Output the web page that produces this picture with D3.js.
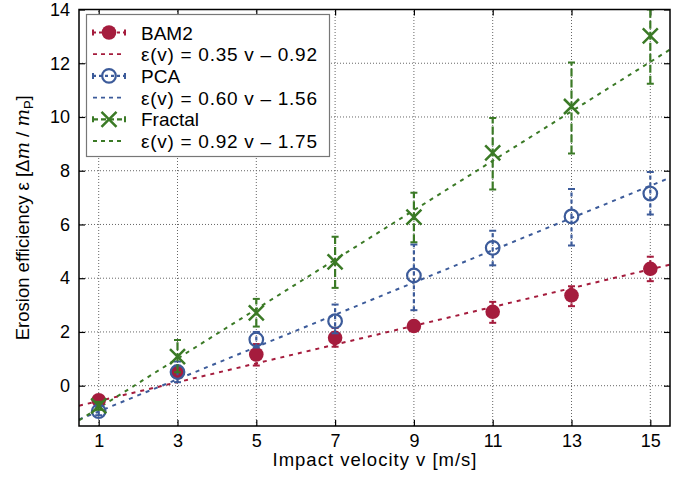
<!DOCTYPE html>
<html>
<head>
<meta charset="utf-8">
<script src="https://cdn.jsdelivr.net/npm/d3@7"></script>
<style>
  body { margin: 0; background: #fff; }
  svg { font-family: "Liberation Sans", Arial, sans-serif; }
</style>
</head>
<body>
<svg id="chart" width="692" height="477"></svg>
<script>
const velocities = [1, 3, 5, 7, 9, 11, 13, 15];

const bamMean = [-0.54, 0.5, 1.16, 1.78, 2.22, 2.75, 3.36, 4.35];
const bamLow = [-0.65, 0.35, 0.75, 1.45, 2.05, 2.34, 2.96, 3.89];
const bamHigh = [-0.43, 0.65, 1.55, 2.15, 2.4, 3.12, 3.7, 4.8];

const pcaMean = [-0.95, 0.51, 1.72, 2.4, 4.1, 5.13, 6.3, 7.15];
const pcaLow = [-1.1, 0.13, 1.42, 1.95, 2.81, 4.48, 5.22, 6.37];
const pcaHigh = [-0.8, 0.9, 2.0, 3.02, 5.25, 5.77, 7.32, 7.95];

const fracMean = [-0.75, 1.08, 2.71, 4.61, 6.27, 8.66, 10.39, 13.02];
const fracLow = [-0.9, 0.5, 2.2, 3.64, 5.34, 7.3, 8.64, 11.24];
const fracHigh = [-0.6, 1.7, 3.23, 5.54, 7.18, 9.96, 12.03, 14.0];

// linear fits: slope, intercept
const fits = [
  { slope: 0.35, intercept: -0.92, label: "ε(v) = 0.35 v – 0.92" },
  { slope: 0.6, intercept: -1.56, label: "ε(v) = 0.60 v – 1.56" },
  { slope: 0.92, intercept: -1.75, label: "ε(v) = 0.92 v – 1.75" },
];

const xTicks = [1, 3, 5, 7, 9, 11, 13, 15];
const yTicks = [0, 2, 4, 6, 8, 10, 12, 14];

const colors = { bam: "#a51c3d", pca: "#3c5b9a", frac: "#3b7a26" };

const margin = { left: 79, right: 22, top: 9.5, bottom: 51 };
const width = 692;
const height = 477;

const svg = d3.select("#chart");

const x = d3.scaleLinear().domain([0.5, 15.5]).range([margin.left, width - margin.right]);
const y = d3.scaleLinear().domain([-1.5, 14]).range([height - margin.bottom, margin.top]);

svg.append("defs").append("clipPath").attr("id", "plot")
  .append("rect")
  .attr("x", x(0.5)).attr("y", y(14))
  .attr("width", x(15.5) - x(0.5)).attr("height", y(-1.5) - y(14));

// grid
const grid = svg.append("g");
grid.selectAll(".gx").data(xTicks).enter().append("line")
  .attr("x1", (d) => x(d)).attr("x2", (d) => x(d))
  .attr("y1", y(-1.5)).attr("y2", y(14))
  .attr("stroke", "#666").attr("stroke-width", 1).attr("stroke-dasharray", "1,2");
grid.selectAll(".gy").data(yTicks).enter().append("line")
  .attr("x1", x(0.5)).attr("x2", x(15.5))
  .attr("y1", (d) => y(d)).attr("y2", (d) => y(d))
  .attr("stroke", "#666").attr("stroke-width", 1).attr("stroke-dasharray", "1,2");

// axes with inward ticks
const tickLen = 6;
const axisBottom = d3.axisBottom(x).tickValues(xTicks).tickSizeInner(-tickLen).tickSizeOuter(0).tickPadding(8);
const axisTop = d3.axisTop(x).tickValues(xTicks).tickSizeInner(-tickLen).tickSizeOuter(0).tickFormat("");
const axisLeft = d3.axisLeft(y).tickValues(yTicks).tickSizeInner(-tickLen).tickSizeOuter(0).tickPadding(9);
const axisRight = d3.axisRight(y).tickValues(yTicks).tickSizeInner(-tickLen).tickSizeOuter(0).tickFormat("");

function styleAxis(g) {
  g.select(".domain").remove();
  g.selectAll(".tick line").attr("stroke", "#000").attr("stroke-width", 1.2);
  g.selectAll(".tick text").attr("font-size", 18).attr("fill", "#000")
    .attr("font-family", "Liberation Sans, Arial, sans-serif");
}

svg.append("g").attr("transform", `translate(0,${y(-1.5)})`).call(axisBottom).call(styleAxis);
svg.append("g").attr("transform", `translate(0,${y(14)})`).call(axisTop).call(styleAxis);
svg.append("g").attr("transform", `translate(${x(0.5)},0)`).call(axisLeft).call(styleAxis);
svg.append("g").attr("transform", `translate(${x(15.5)},0)`).call(axisRight).call(styleAxis);

// fit lines
const plot = svg.append("g").attr("clip-path", "url(#plot)");
const fitColors = [colors.bam, colors.pca, colors.frac];
fits.forEach((f, i) => {
  const line = d3.line().x((d) => x(d)).y((d) => y(f.slope * d + f.intercept));
  plot.append("path")
    .datum([0.5, 15.5])
    .attr("d", line)
    .attr("fill", "none")
    .attr("stroke", fitColors[i])
    .attr("stroke-width", 2)
    .attr("stroke-dasharray", "4,5");
});

// series
const series = [
  { key: "bam", name: "BAM2", mean: bamMean, low: bamLow, high: bamHigh, dash: "3,3", marker: "dot" },
  { key: "pca", name: "PCA", mean: pcaMean, low: pcaLow, high: pcaHigh, dash: "4,3", marker: "circle" },
  { key: "frac", name: "Fractal", mean: fracMean, low: fracLow, high: fracHigh, dash: "8,3", marker: "cross" },
];

function drawMarker(g, type, cx, cy, color) {
  if (type === "dot") {
    g.append("circle").attr("cx", cx).attr("cy", cy).attr("r", 7.3).attr("fill", color);
  } else if (type === "circle") {
    g.append("circle").attr("cx", cx).attr("cy", cy).attr("r", 6.8)
      .attr("fill", "none").attr("stroke", color).attr("stroke-width", 2.2);
  } else {
    const s = 7.5;
    g.append("path")
      .attr("d", `M${cx - s},${cy - s}L${cx + s},${cy + s}M${cx - s},${cy + s}L${cx + s},${cy - s}`)
      .attr("stroke", color).attr("stroke-width", 2.5).attr("fill", "none");
  }
}

series.forEach((s) => {
  const color = colors[s.key];
  const g = plot.append("g");
  velocities.forEach((v, i) => {
    const cx = x(v);
    g.append("line")
      .attr("x1", cx).attr("x2", cx)
      .attr("y1", y(s.low[i])).attr("y2", y(s.high[i]))
      .attr("stroke", color).attr("stroke-width", 2.2)
      .attr("stroke-dasharray", s.dash);
    [s.low[i], s.high[i]].forEach((e) => {
      g.append("line")
        .attr("x1", cx - 3.5).attr("x2", cx + 3.5)
        .attr("y1", y(e)).attr("y2", y(e))
        .attr("stroke", color).attr("stroke-width", 2);
    });
    drawMarker(g, s.marker, cx, y(s.mean[i]), color);
  });
});

// frame
svg.append("rect")
  .attr("x", x(0.5)).attr("y", y(14))
  .attr("width", x(15.5) - x(0.5)).attr("height", y(-1.5) - y(14))
  .attr("fill", "none").attr("stroke", "#000").attr("stroke-width", 1.5);

// legend
const legend = svg.append("g");
legend.append("rect")
  .attr("x", 86.5).attr("y", 14.5).attr("width", 243).attr("height", 142)
  .attr("fill", "#fff").attr("stroke", "#777").attr("stroke-width", 1.2);

const rowY0 = 32.5;
const rowStep = 21.7;
series.forEach((s, i) => {
  const color = colors[s.key];
  const yr = rowY0 + rowStep * 2 * i;
  legend.append("line")
    .attr("x1", 93).attr("x2", 125).attr("y1", yr).attr("y2", yr)
    .attr("stroke", color).attr("stroke-width", 2.2).attr("stroke-dasharray", s.dash === "8,3" ? "5,3" : "3,3");
  [93, 125].forEach((cx) => {
    legend.append("line").attr("x1", cx).attr("x2", cx).attr("y1", yr - 3).attr("y2", yr + 3)
      .attr("stroke", color).attr("stroke-width", 2);
  });
  drawMarker(legend, s.marker, 109, yr, color);
  legend.append("text").attr("x", 141).attr("y", yr + 7)
    .attr("font-size", 19).text(s.name);

  const yf = yr + rowStep;
  legend.append("line")
    .attr("x1", 93).attr("x2", 125).attr("y1", yf).attr("y2", yf)
    .attr("stroke", fitColors[i]).attr("stroke-width", 1.8).attr("stroke-dasharray", "4,4");
  legend.append("text").attr("x", 141).attr("y", yf + 7)
    .attr("font-size", 19)
    .attr("textLength", 176).attr("lengthAdjust", "spacing")
    .text(fits[i].label);
});

// axis titles
svg.append("text")
  .attr("x", (x(0.5) + x(15.5)) / 2).attr("y", 466)
  .attr("text-anchor", "middle").attr("font-size", 18.5)
  .attr("textLength", 204).attr("lengthAdjust", "spacing")
  .text("Impact velocity v [m/s]");

const yTitle = svg.append("text")
  .attr("transform", `translate(29,${(y(-1.5) + y(14)) / 2}) rotate(-90)`)
  .attr("text-anchor", "middle").attr("font-size", 18.5);
yTitle.append("tspan").text("Erosion efficiency ε [Δ");
yTitle.append("tspan").attr("font-style", "italic").attr("font-family", "DejaVu Serif, serif").text("m");
yTitle.append("tspan").text(" / ");
yTitle.append("tspan").attr("font-style", "italic").attr("font-family", "DejaVu Serif, serif").text("m");
yTitle.append("tspan").attr("font-size", 13).attr("dy", 4).text("P");
yTitle.append("tspan").attr("dy", -4).text("]");
</script>
</body>
</html>
